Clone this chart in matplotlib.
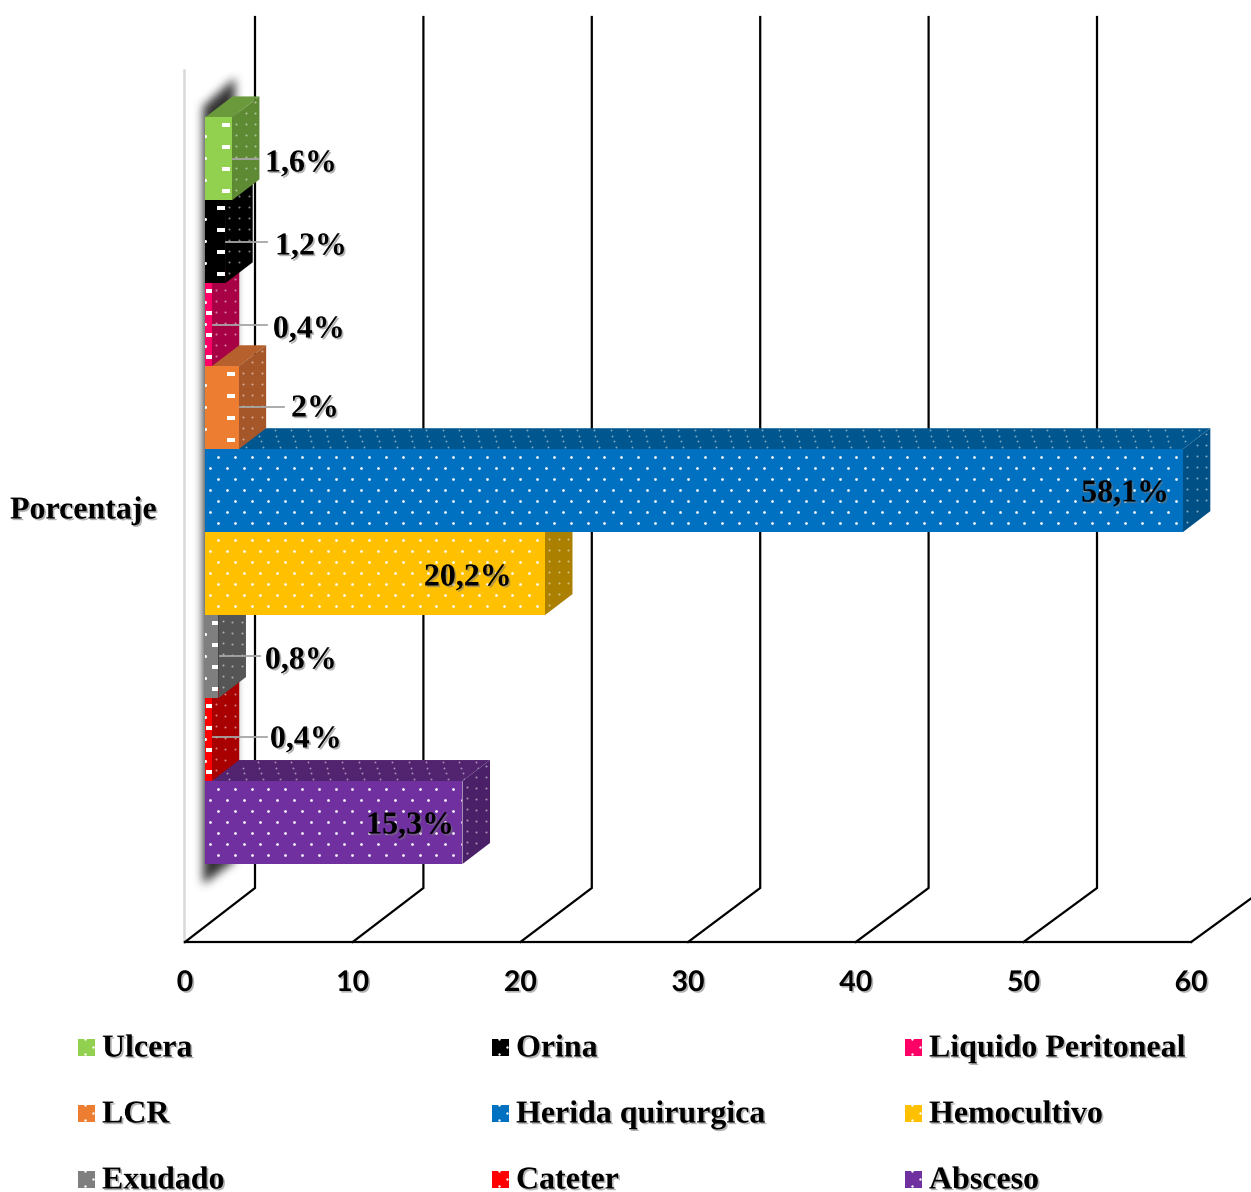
import numpy as np
import matplotlib
matplotlib.use('Agg')
import matplotlib.pyplot as plt
from matplotlib.patches import Polygon, Rectangle
import matplotlib.patheffects as pe

# categorias de abajo hacia arriba en el grafico
categorias = ['Absceso', 'Cateter', 'Exudado', 'Hemocultivo', 'Herida quirurgica', 'LCR',
			  'Liquido Peritoneal', 'Orina', 'Ulcera']
porcentajes = [15.3, 0.4, 0.8, 20.2, 58.1, 2, 0.4, 1.2, 1.6]
frente = ['#7030A0', '#FF0000', '#7F7F7F', '#FFC000', '#0070C0', '#ED7D31', '#FF0066', '#000000', '#92D050']
lateral = ['#4A2069', '#A80000', '#555555', '#AB8000', '#004F85', '#A5572A', '#A80045', '#000000', '#5F8A34']
superior = ['#52246F', '#B80000', '#5E5E5E', '#BC8F00', '#00578F', '#B5602D', '#B8004B', '#000000', '#6A9A3C']

ticks_x = [0, 10, 20, 30, 40, 50, 60]
orden_leyenda = ['Ulcera', 'Orina', 'Liquido Peritoneal', 'LCR', 'Herida quirurgica', 'Hemocultivo',
				 'Exudado', 'Cateter', 'Absceso']

W, H = 1251, 1192
ESC_X, ESC_Y = 16.83, 82.95
X0, Y0 = 205.0, 822.5
PROF_X, PROF_Y = 27.5, 21.0		# desplazamiento de la cara del fondo de cada barra
LETRA = 23


def X(px):
	return (px - X0) / ESC_X


def Y(py):
	return (Y0 - py) / ESC_Y


fig = plt.figure(figsize=(W / 100, H / 100), dpi=100)
ax = fig.add_axes([0, 0, 1, 1])
ax.set_xlim(X(0), X(W))
ax.set_ylim(Y(H), Y(0))
ax.axis('off')

serif = dict(family='Liberation Serif', weight='bold', color='black')
sombra = [pe.withSimplePatchShadow(offset=(1.2, -1.2), shadow_rgbFace='#777777', alpha=0.55)]

# pared izquierda, piso y lineas de division
ax.plot([X(184), X(184)], [Y(70), Y(942)], color='#D9D9D9', lw=1.8, zorder=1)
ax.plot([X(185), X(1191)], [Y(942), Y(942)], color='black', lw=1.6, zorder=2)
for t in ticks_x:
	fx = 185 + 16.77 * t
	bx = 255 + 16.84 * t
	ax.plot([X(fx), X(bx), X(bx)], [Y(942), Y(888), Y(17)], color='black', lw=1.6, zorder=2,
			solid_joinstyle='miter')
	ax.text(X(fx), Y(983), str(t), ha='center', va='center', family='Lato', weight='bold', fontsize=20.5,
			color='black', path_effects=sombra, zorder=30)

# sombra difusa detras de las barras
yy, xx = np.mgrid[40:920, 160:280]
mascara = ((xx >= 203) & (xx <= 234) & (yy >= 104 - (xx - 205) * 0.9) & (yy <= 882 - (xx - 205) * 0.75)).astype(float)
nucleo = np.ones(9) / 9
for _ in range(3):
	mascara = np.apply_along_axis(lambda f: np.convolve(f, nucleo, mode='same'), 1, mascara)
	mascara = np.apply_along_axis(lambda f: np.convolve(f, nucleo, mode='same'), 0, mascara)
rgba = np.zeros(mascara.shape + (4,))
rgba[..., :3] = 0.2
rgba[..., 3] = mascara
ax.imshow(rgba, extent=(X(160), X(280), Y(920), Y(40)), aspect='auto', interpolation='bilinear', zorder=3)
ax.set_xlim(X(0), X(W))
ax.set_ylim(Y(H), Y(0))

dx, dy = PROF_X / ESC_X, PROF_Y / ESC_Y
for i, (v, cf, cl, cs) in enumerate(zip(porcentajes, frente, lateral, superior)):
	z = 5 + i
	b, t = i - 0.5, i + 0.5
	cara = Polygon([(0, b), (v, b), (v, t), (0, t)], fc=cf, ec='none', zorder=z)
	arriba = Polygon([(0, t), (v, t), (v + dx, t + dy), (dx, t + dy)], fc=cs, ec='none', zorder=z)
	lado = Polygon([(v, b), (v + dx, b + dy), (v + dx, t + dy), (v, t)], fc=cl, ec='none', zorder=z)
	for p in (arriba, lado, cara):
		ax.add_patch(p)

	# puntos blancos de la trama en cada cara
	filas = (8 + 11 * np.arange(7.0)) / ESC_Y
	if v > 5:
		px_, py_ = [], []
		for k, f in enumerate(filas):
			col = np.arange(13 if k % 2 == 0 else 5, v * ESC_X, 16.8) / ESC_X
			px_ += list(col)
			py_ += [t - f] * len(col)
		s = ax.scatter(px_, py_, s=4, c='white', marker='o', linewidths=0, zorder=z + 0.1, alpha=0.95)
		s.set_clip_path(cara)
		# trama de la cara superior
		ux, uy = [], []
		for k, w in enumerate(np.linspace(0.12, 0.9, 4)):
			col = np.arange(4 + 8 * k, v * ESC_X, 16.8) / ESC_X
			ux += list(col + w * dx)
			uy += [t + w * dy] * len(col)
		s = ax.scatter(ux, uy, s=1.8, c='white', marker='o', linewidths=0, zorder=z + 0.1, alpha=0.5)
		s.set_clip_path(arriba)
	else:
		ex, ey, dashx, dashy = [], [], [], []
		for k, f in enumerate(filas):
			if k % 2 == 0:
				dashx.append(v * 0.78)
				dashy.append(t - f)
			else:
				ex.append(0.02)
				ey.append(t - f)
		s = ax.scatter(dashx, dashy, s=26, c='white', marker='_', linewidths=1.6, zorder=z + 0.1)
		s.set_clip_path(cara)
		s = ax.scatter(ex, ey, s=5, c='white', marker='o', linewidths=0, zorder=z + 0.1)
		s.set_clip_path(cara)
	# trama de la cara lateral
	lx, ly = [], []
	for w in np.linspace(0.15, 0.85, 3):
		lx += [v + w * dx] * 7
		ly += list(t - filas + w * dy + (w * 10 - 3) / ESC_Y)
	s = ax.scatter(lx, ly, s=2.2, c='white', marker='o', linewidths=0, zorder=z + 0.1, alpha=0.5)
	s.set_clip_path(lado)

# etiquetas de valores, con linea guia cuando quedan fuera de la barra
etiqueta_x = [454, 342, 337, 512, 1169, 339, 345, 347, 337]
etiqueta_y = [826, 740, 661, 578, 494, 409, 330, 247, 164]
guia = [None, (213, 267, 737), (220, 260, 656), None, None, (240, 284, 407), (213, 267, 325), (226, 267, 242), (233, 258, 159)]
for v, ex, ey, g in zip(porcentajes, etiqueta_x, etiqueta_y, guia):
	txt = f'{v:g}'.replace('.', ',') + '%'
	if g is not None:
		ax.plot([X(g[0]), X(g[1])], [Y(g[2]), Y(g[2])], color='#A6A6A6', lw=1.3, zorder=20)
	ax.text(X(ex), Y(ey), txt, ha='right', va='center', fontsize=LETRA, zorder=30, path_effects=sombra, **serif)

ax.text(X(10), Y(511), 'Porcentaje', ha='left', va='center', fontsize=LETRA, zorder=30, path_effects=sombra, **serif)

# leyenda en tres filas y tres columnas
col_x = [78, 492, 905]
fila_y = [1047, 1113, 1179]
for n, nombre in enumerate(orden_leyenda):
	lx0 = col_x[n % 3]
	ly0 = fila_y[n // 3]
	c = frente[categorias.index(nombre)]
	ax.add_patch(Rectangle((X(lx0), Y(ly0 + 8.5)), 17 / ESC_X, 17 / ESC_Y, fc=c, ec='none', zorder=10))
	ax.scatter([X(lx0 + 7), X(lx0 + 15), X(lx0 + 7)], [Y(ly0 - 8), Y(ly0), Y(ly0 + 7)], s=3, c='white',
			   linewidths=0, zorder=11)
	ax.text(X(lx0 + 24), Y(ly0 + 2), nombre, ha='left', va='center', fontsize=LETRA, zorder=30, path_effects=sombra, **serif)

fig.savefig('out.png', dpi=100)
